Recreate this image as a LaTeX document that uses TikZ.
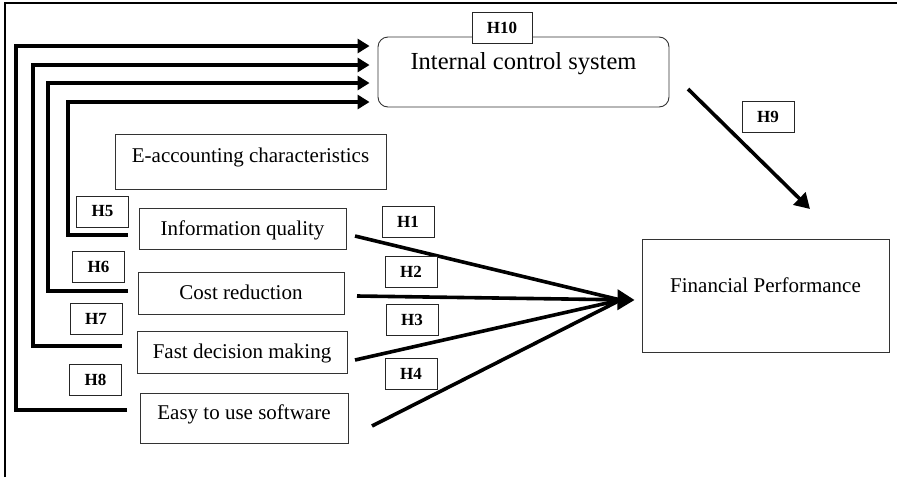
\documentclass[tikz,border=0pt]{standalone}
\usepackage{fontspec}
\setmainfont{Liberation Serif}
\usetikzlibrary{arrows.meta,calc}
\begin{document}
\begin{tikzpicture}[x=1pt,y=-1pt,
  box/.style={draw=black!80,line width=0.9pt,inner sep=0pt},
  hbox/.style={draw=black!85,fill=white,line width=0.9pt,inner sep=0pt,minimum width=52pt,minimum height=31pt,font=\fontsize{17}{20}\selectfont\bfseries},
  txt/.style={inner sep=0pt,anchor=base,font=\fontsize{21}{25}\selectfont},
  conn/.style={line width=3.6pt},
  tipA/.style={-{Triangle[length=12pt,width=14pt]}},
  tipB/.style={-{Triangle[length=17pt,width=20pt]}},
  tipC/.style={-{Triangle[length=15pt,width=17pt]}}]
\useasboundingbox (0,0) rectangle (897,477);
% outer frame
\draw[line width=1.2pt] (5,477) -- (5,3) -- (897,3);
% boxes
\node[box,rounded corners=10pt,minimum width=291pt,minimum height=70pt] (ics) at (523.5,72) {};
\node[box,minimum width=271pt,minimum height=55pt] (eac) at (250.5,161.5) {};
\node[box,minimum width=207pt,minimum height=41pt] (iq) at (242.5,228.5) {};
\node[box,minimum width=206pt,minimum height=42pt] (cr) at (241,293) {};
\node[box,minimum width=210pt,minimum height=42pt] (fd) at (242,352) {};
\node[box,minimum width=208pt,minimum height=50pt] (eu) at (244,418) {};
\node[box,minimum width=247pt,minimum height=113pt] (fp) at (765.5,295.5) {};
% texts
\node[txt,font=\fontsize{24.5}{29}\selectfont] (icst) at (523.5,69) {Internal control system};
\node[txt] (eact) at (250.5,162) {E-accounting characteristics};
\node[txt] (iqt) at (242.5,235) {Information quality};
\node[txt] (crt) at (241,299) {Cost reduction};
\node[txt] (fdt) at (242,358) {Fast decision making};
\node[txt] (eut) at (244,419) {Easy to use software};
\node[txt] (fpt) at (765.5,292) {Financial Performance};
% feedback connectors to internal control system
\coordinate (f5) at (128,235); \coordinate (c5) at (68,102);
\coordinate (f6) at (128,291); \coordinate (c6) at (48,83);
\coordinate (f7) at (122,346); \coordinate (c7) at (33,65);
\coordinate (f8) at (127,410); \coordinate (c8) at (16,46);
\draw[conn,tipA,shorten >=8pt] (f5) -| (c5) -- (ics.west |- c5);
\draw[conn,tipA,shorten >=8pt] (f6) -| (c6) -- (ics.west |- c6);
\draw[conn,tipA,shorten >=8pt] (f7) -| (c7) -- (ics.west |- c7);
\draw[conn,tipA,shorten >=8pt] (f8) -| (c8) -- (ics.west |- c8);
% converging connectors to financial performance
\coordinate (tip) at ($(fp.west)+(-7,4.5)$);
\coordinate (conv) at ($(tip)+(-14,0)$);
\coordinate (o1) at (355,236);
\coordinate (o2) at (357,296);
\coordinate (o3) at (355,360);
\coordinate (o4) at (372,426);
\draw[conn] (o1) -- (conv);
\draw[conn] (o3) -- (conv);
\draw[conn] (o4) -- (conv);
\draw[conn,tipB] (o2) -- (tip);
% H9
\coordinate (h9s) at (688,89);
\coordinate (h9e) at (810,209);
\draw[conn,tipC] (h9s) -- (h9e);
% hypothesis labels
\node[hbox,minimum width=60pt] (h10) at (502,27.5) {H10};
\node[hbox] (h9) at (768,117) {H9};
\node[hbox] (h5) at (102.5,211.5) {H5};
\node[hbox] (h6) at (98.5,267) {H6};
\node[hbox] (h7) at (96,318.5) {H7};
\node[hbox] (h8) at (95.5,379.5) {H8};
\node[hbox] (h1) at (408,221.5) {H1};
\node[hbox] (h2) at (411,271.5) {H2};
\node[hbox] (h3) at (412,320) {H3};
\node[hbox] (h4) at (411,373.5) {H4};
\end{tikzpicture}
\end{document}
